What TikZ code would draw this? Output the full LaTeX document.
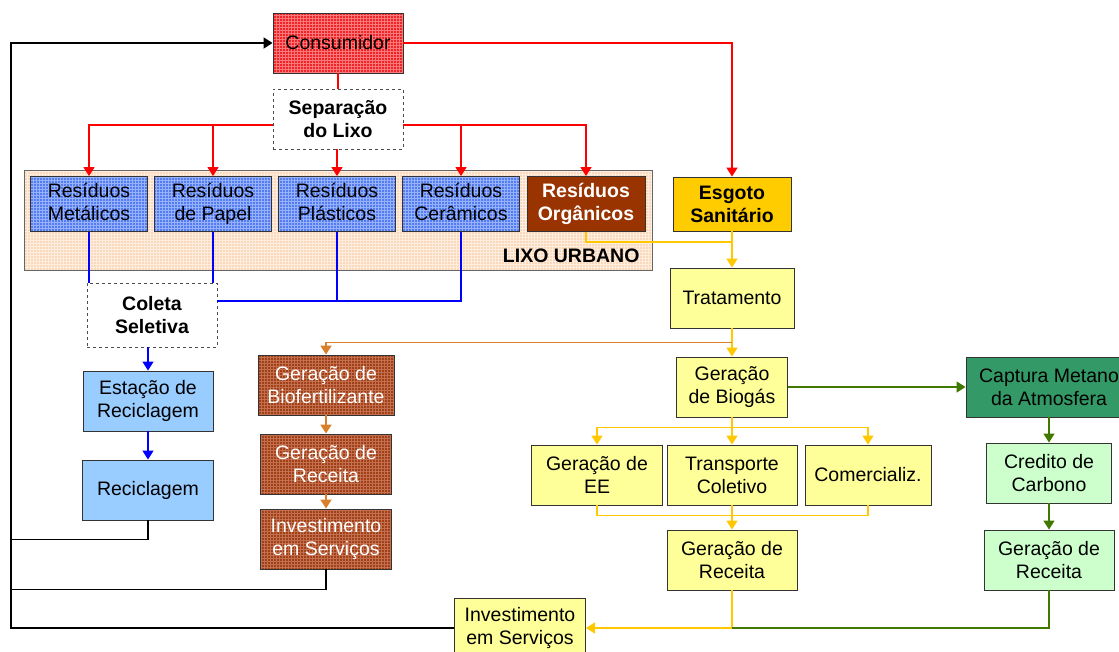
\documentclass[tikz,border=0pt]{standalone}
\usepackage{fontspec}
\setmainfont{Liberation Sans}
\usetikzlibrary{arrows.meta,patterns}

\definecolor{consred}{RGB}{240,36,40}
\definecolor{consgrid}{RGB}{250,120,120}
\definecolor{resblue}{RGB}{84,124,240}
\definecolor{resgrid}{RGB}{150,178,250}
\definecolor{orgbrown}{RGB}{153,51,0}
\definecolor{biobrown}{RGB}{160,64,22}
\definecolor{biogrid}{RGB}{196,112,80}
\definecolor{lixobg}{RGB}{250,216,186}
\definecolor{lixogrid}{RGB}{255,238,224}
\definecolor{esgyel}{RGB}{255,204,0}
\definecolor{lightyel}{RGB}{255,255,153}
\definecolor{lightblue}{RGB}{153,204,255}
\definecolor{capgreen}{RGB}{51,153,102}
\definecolor{lightgreen}{RGB}{204,255,204}
\definecolor{linered}{RGB}{255,0,0}
\definecolor{lineblue}{RGB}{0,0,255}
\definecolor{lineyel}{RGB}{255,200,0}
\definecolor{lineorange}{RGB}{217,128,43}
\definecolor{linegreen}{RGB}{64,120,0}

\begin{document}
\begin{tikzpicture}[x=1pt, y=-1pt,
	box/.style={draw=black!80, line width=0.9pt, align=center, inner sep=0pt,
		minimum height=60, font=\fontsize{19.5}{23}\selectfont},
	boldbox/.style={box, font=\fontsize{19.5}{23}\selectfont\bfseries},
	dashbox/.style={boldbox, dashed, draw=black!70, fill=white},
	gridfill/.style 2 args={preaction={fill=#1}, preaction={pattern=grid, pattern color=#2}},
	rline/.style={linered, line width=1.4pt},
	bline/.style={lineblue, line width=1.4pt},
	yline/.style={lineyel, line width=1.4pt},
	oline/.style={lineorange, line width=1.8pt},
	gline/.style={linegreen, line width=1.4pt},
	kline/.style={black, line width=1.8pt},
	tip/.style={-{Triangle[length=9pt,width=11pt]}}]
	\useasboundingbox (0,0) rectangle (1119,651);

	% Lixo urbano
	\node[box, gridfill={lixobg}{lixogrid}, draw=black!60,
		minimum width=628, minimum height=100] (lixo) at (338,220) {};
	\node[anchor=base east, font=\fontsize{19.5}{23}\selectfont\bfseries] (lixotxt) at (643,262) {LIXO URBANO};

	% Consumidor
	\node[box, gridfill={consred}{consgrid}, minimum width=130] (cons) at (338,43) {};
	\node[font=\fontsize{19.5}{23}\selectfont] (constxt) at (cons) {Consumidor};
	\node[dashbox, minimum width=130] (sep) at (338,119) {Separação\\do Lixo};

	% Residuos
	\foreach \nm/\xx/\txt in {metal/89/Metálicos, papel/213/de Papel, plast/337/Plásticos, ceram/461/Cerâmicos} {
		\node[box, gridfill={resblue}{resgrid}, minimum width=117, minimum height=55] (\nm) at (\xx,204) {};
		\node[align=center, inner sep=0pt, font=\fontsize{19.5}{23}\selectfont] (\nm txt) at (\nm) {Resíduos\\\txt\vphantom{p}};
	}
	\node[boldbox, fill=orgbrown, text=white, minimum width=118, minimum height=55] (organ) at (586,204) {Resíduos\\Orgânicos};

	% Esgoto
	\node[boldbox, fill=esgyel, minimum width=118, minimum height=54] (esgoto) at (732,204) {Esgoto\\Sanitário};
	\node[box, fill=lightyel, minimum width=124] (trat) at (732,298) {Tratamento};
	\node[box, fill=lightyel, minimum width=111] (biogas) at (732,387) {Geração\\de Biogás};
	\node[box, fill=lightyel, minimum width=131] (ee) at (597,475) {Geração de\\EE};
	\node[box, fill=lightyel, minimum width=130] (transp) at (732,475) {Transporte\\Coletivo};
	\node[box, fill=lightyel, minimum width=126] (comerc) at (868,475) {Comercializ.};
	\node[box, fill=lightyel, minimum width=130] (receita) at (732,560) {Geração de\\Receita};
	\node[box, fill=lightyel, minimum width=131] (invest) at (520,628) {Investimento\\em Serviços};

	% Carbono
	\node[box, fill=capgreen, minimum width=166] (captura) at (1049,387) {Captura Metano\\da Atmosfera};
	\node[box, fill=lightgreen, minimum width=125] (credito) at (1049,473) {Credito de\\Carbono};
	\node[box, fill=lightgreen, minimum width=130] (receitaG) at (1049,560) {Geração de\\Receita};

	% Coleta seletiva
	\node[dashbox, minimum width=130, minimum height=64] (coleta) at (152,315) {Coleta\\Seletiva};
	\node[box, fill=lightblue, minimum width=130] (estacao) at (148,401) {Estação de\\Reciclagem};
	\node[box, fill=lightblue, minimum width=131] (recicl) at (148,490) {Reciclagem};

	% Biofertilizante
	\foreach \nm/\yy/\txt/\ww in {biofert/385/{Geração de\\Biofertilizante}/136, receitaB/464/{Geração de\\Receita}/131, investB/539/{Investimento\\em Serviços}/131} {
		\node[box, gridfill={biobrown}{biogrid}, minimum width=\ww] (\nm) at (326,\yy) {};
		\node[align=center, inner sep=0pt, text=white, font=\fontsize{19.5}{23}\selectfont] (\nm txt) at (\nm) {\txt};
	}

	% Red
	\draw[rline] (cons) -- (sep);
	\draw[rline, tip] (cons.east) -| (esgoto.north);
	\draw[rline, tip] ([yshift=-6pt]sep.west) -| (metal.north);
	\draw[rline, tip] ([yshift=-6pt]sep.west) -| (papel.north);
	\draw[rline, tip] (sep.south -| plast.north) -- (plast.north);
	\draw[rline, tip] ([yshift=-6pt]sep.east) -| (ceram.north);
	\draw[rline, tip] ([yshift=-6pt]sep.east) -| (organ.north);

	% Blue
	\draw[bline] (metal.south) -- (metal.south |- coleta.north);
	\draw[bline] (papel.south) -- (papel.south |- coleta.north);
	\draw[bline] (plast.south) |- ([yshift=14pt]coleta.east);
	\draw[bline] (ceram.south) |- ([yshift=14pt]coleta.east);
	\draw[bline, tip] (estacao.north |- coleta.south) -- (estacao.north);
	\draw[bline, tip] (estacao) -- (recicl);

	% Yellow
	\draw[yline, line width=1.1pt] (organ.south) -- ++(0,10) -| (esgoto.south);
	\draw[yline, tip] (esgoto) -- (trat);
	\draw[yline, tip] (trat) -- (biogas);
	\draw[yline, tip] (biogas.south) ++(0,10) -| (ee.north);
	\draw[yline, tip] (biogas.south) ++(0,10) -| (comerc.north);
	\draw[yline, tip] (biogas) -- (transp);
	\draw[yline] (ee.south) -- ++(0,10) -| (comerc.south);
	\draw[yline, tip] (transp) -- (receita);
	\draw[yline, tip] (receita.south) |- (invest.east);

	% Orange
	\draw[oline, tip] (trat.south) ++(0,14) -| (biofert.north);
	\draw[oline, tip] (biofert) -- (receitaB);
	\draw[oline, tip] (receitaB) -- (investB);

	% Green
	\draw[gline, tip] (biogas) -- (captura);
	\draw[gline, tip] (captura.south -| credito.north) -- (credito.north);
	\draw[gline, tip] (credito) -- (receitaG);
	\draw[gline] (receitaG.south) |- (receita.south |- invest.east);

	% Black
	\coordinate (back) at (11,43);
	\draw[kline, tip] (invest.west) -| (back) -- (cons.west);
	\draw[kline] (recicl.south) -- ++(0,19) -| (back);
	\draw[kline] (investB.south) -- ++(0,20) -| (back);
\end{tikzpicture}
\end{document}
